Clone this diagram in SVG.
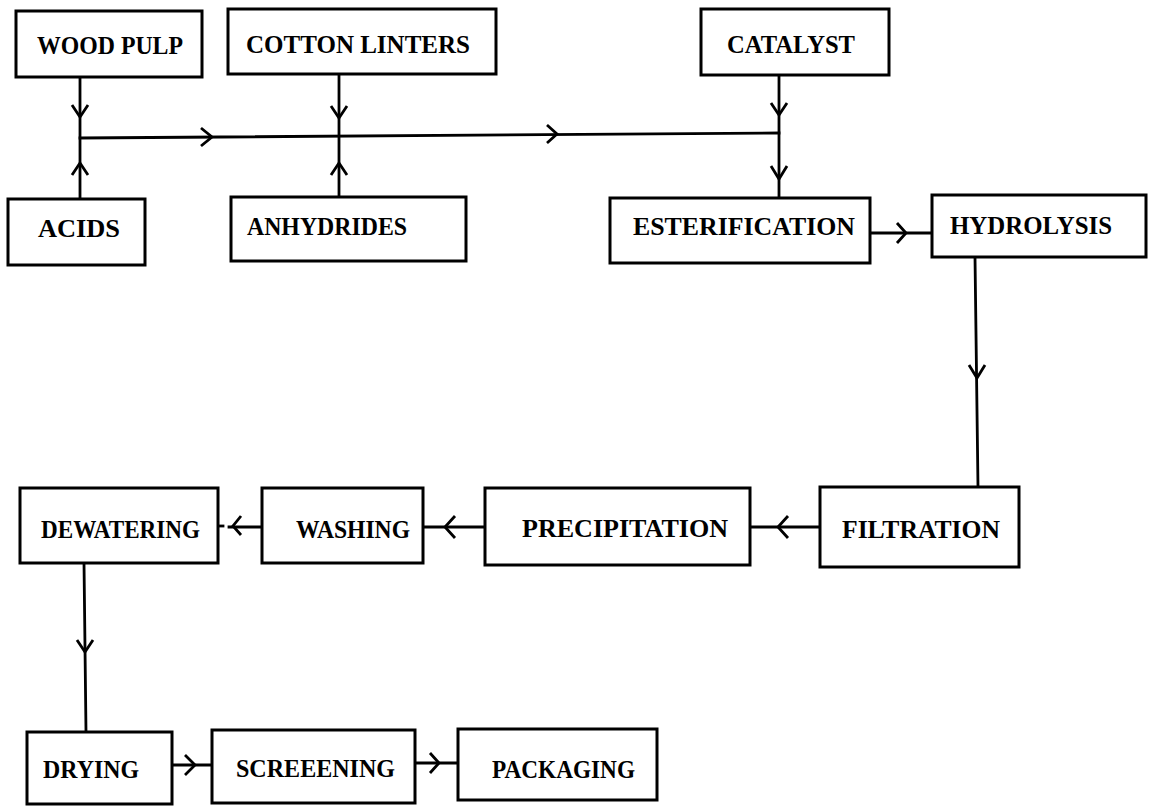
<svg xmlns="http://www.w3.org/2000/svg" width="1154" height="807" viewBox="0 0 1154 807">
<style>
.box{fill:#fff;stroke:#000;stroke-width:3}
.lbl{font-family:"Liberation Serif",serif;font-weight:bold;font-size:26px;fill:#000}
.ln{fill:none;stroke:#000;stroke-width:2.8;stroke-linecap:square}
.ch{fill:none;stroke:#000;stroke-width:2.8;stroke-linejoin:miter}
</style>
<rect width="1154" height="807" fill="#fff"/>
<g id="connectors">
<line class="ln" x1="80" y1="77" x2="80" y2="199"/>
<polyline class="ch" points="72,105 80,117 88,105"/>
<polyline class="ch" points="72,175 80,163 88,175"/>
<line class="ln" x1="339" y1="74" x2="339" y2="197"/>
<polyline class="ch" points="331,106 339,118 347,106"/>
<polyline class="ch" points="331,175 339,163 347,175"/>
<line class="ln" x1="80" y1="138" x2="779" y2="133"/>
<polyline class="ch" points="201,128 212,137 201,146"/>
<polyline class="ch" points="547,125 557,134 547,143"/>
<line class="ln" x1="779" y1="75" x2="779" y2="198"/>
<polyline class="ch" points="771,103 779,115 787,103"/>
<polyline class="ch" points="771,166 779,179 787,166"/>
<line class="ln" x1="870" y1="233" x2="932" y2="233"/>
<polyline class="ch" points="897,223 906,233 897,243"/>
<line class="ln" x1="975" y1="257" x2="978" y2="487"/>
<polyline class="ch" points="969,365 977,378 985,365"/>
<line class="ln" x1="820" y1="527" x2="750" y2="527"/>
<polyline class="ch" points="788,516 778,527 788,538"/>
<line class="ln" x1="485" y1="527" x2="423" y2="527"/>
<polyline class="ch" points="455,516 445,527 455,538"/>
<line class="ln" x1="262" y1="527" x2="229" y2="527"/>
<line class="ln" x1="218" y1="526" x2="223" y2="526"/>
<polyline class="ch" points="241,516 233,526 241,535"/>
<line class="ln" x1="84" y1="563" x2="86" y2="732"/>
<polyline class="ch" points="77,640 85,652 93,640"/>
<line class="ln" x1="172" y1="765" x2="212" y2="765"/>
<polyline class="ch" points="185,755 195,765 185,775"/>
<line class="ln" x1="415" y1="763" x2="458" y2="763"/>
<polyline class="ch" points="430,753 439,763 430,773"/>
</g>
<g id="wood-pulp"><rect class="box" x="16" y="11" width="186" height="66"/><text class="lbl" x="37" y="54" textLength="146" lengthAdjust="spacingAndGlyphs">WOOD PULP</text></g>
<g id="cotton-linters"><rect class="box" x="228" y="9" width="268" height="65"/><text class="lbl" x="246" y="53" textLength="224" lengthAdjust="spacingAndGlyphs">COTTON LINTERS</text></g>
<g id="catalyst"><rect class="box" x="701" y="9" width="188" height="66"/><text class="lbl" x="727" y="53" textLength="128" lengthAdjust="spacingAndGlyphs">CATALYST</text></g>
<g id="acids"><rect class="box" x="8" y="199" width="137" height="66"/><text class="lbl" x="38" y="237" textLength="82" lengthAdjust="spacingAndGlyphs">ACIDS</text></g>
<g id="anhydrides"><rect class="box" x="231" y="197" width="235" height="64"/><text class="lbl" x="247" y="235" textLength="160" lengthAdjust="spacingAndGlyphs">ANHYDRIDES</text></g>
<g id="esterification"><rect class="box" x="610" y="198" width="260" height="65"/><text class="lbl" x="633" y="235" textLength="222" lengthAdjust="spacingAndGlyphs">ESTERIFICATION</text></g>
<g id="hydrolysis"><rect class="box" x="932" y="195" width="214" height="62"/><text class="lbl" x="950" y="234" textLength="162" lengthAdjust="spacingAndGlyphs">HYDROLYSIS</text></g>
<g id="filtration"><rect class="box" x="820" y="487" width="199" height="80"/><text class="lbl" x="842" y="538" textLength="158" lengthAdjust="spacingAndGlyphs">FILTRATION</text></g>
<g id="precipitation"><rect class="box" x="485" y="488" width="265" height="77"/><text class="lbl" x="522" y="537" textLength="206" lengthAdjust="spacingAndGlyphs">PRECIPITATION</text></g>
<g id="washing"><rect class="box" x="262" y="488" width="161" height="75"/><text class="lbl" x="296" y="538" textLength="114" lengthAdjust="spacingAndGlyphs">WASHING</text></g>
<g id="dewatering"><rect class="box" x="20" y="488" width="198" height="75"/><text class="lbl" x="41" y="538" textLength="159" lengthAdjust="spacingAndGlyphs">DEWATERING</text></g>
<g id="drying"><rect class="box" x="27" y="732" width="145" height="72"/><text class="lbl" x="43" y="778" textLength="96" lengthAdjust="spacingAndGlyphs">DRYING</text></g>
<g id="screeening"><rect class="box" x="212" y="730" width="203" height="73"/><text class="lbl" x="236" y="777" textLength="159" lengthAdjust="spacingAndGlyphs">SCREEENING</text></g>
<g id="packaging"><rect class="box" x="458" y="729" width="199" height="71"/><text class="lbl" x="492" y="778" textLength="143" lengthAdjust="spacingAndGlyphs">PACKAGING</text></g>
</svg>
